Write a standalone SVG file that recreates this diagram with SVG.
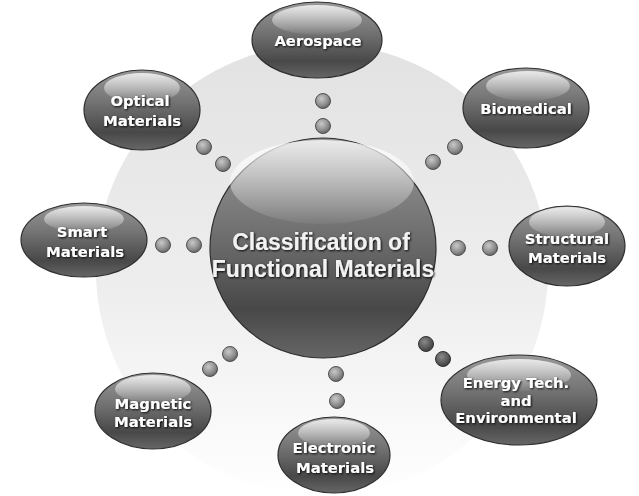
<svg xmlns="http://www.w3.org/2000/svg" width="639" height="496" viewBox="0 0 639 496">
<defs>
  <linearGradient id="bgG" x1="0" y1="0" x2="0" y2="1">
    <stop offset="0" stop-color="#e2e2e2"/>
    <stop offset="0.55" stop-color="#eeeeee"/>
    <stop offset="1" stop-color="#ffffff"/>
  </linearGradient>
  <linearGradient id="bodyG" x1="0" y1="0" x2="0" y2="1">
    <stop offset="0" stop-color="#999999"/>
    <stop offset="0.4" stop-color="#737373"/>
    <stop offset="0.78" stop-color="#484848"/>
    <stop offset="1" stop-color="#666666"/>
  </linearGradient>
  <linearGradient id="hiG" x1="0" y1="0" x2="0" y2="1">
    <stop offset="0" stop-color="#ffffff" stop-opacity="0.8"/>
    <stop offset="0.6" stop-color="#ffffff" stop-opacity="0.35"/>
    <stop offset="1" stop-color="#ffffff" stop-opacity="0.05"/>
  </linearGradient>
  <radialGradient id="dotG" cx="0.4" cy="0.35" r="0.7">
    <stop offset="0" stop-color="#c8c8c8"/>
    <stop offset="0.6" stop-color="#909090"/>
    <stop offset="1" stop-color="#5e5e5e"/>
  </radialGradient>
  <radialGradient id="dotDark" cx="0.4" cy="0.35" r="0.7">
    <stop offset="0" stop-color="#8a8a8a"/>
    <stop offset="0.6" stop-color="#5a5a5a"/>
    <stop offset="1" stop-color="#3a3a3a"/>
  </radialGradient>
  <filter id="sh" x="-10%" y="-30%" width="120%" height="160%">
    <feDropShadow dx="1" dy="1" stdDeviation="0.8" flood-color="#000" flood-opacity="0.95"/>
  </filter>
</defs>
<style>
  .body { fill: url(#bodyG); stroke: #2e2e2e; stroke-width: 1.2; }
  .hi { fill: url(#hiG); }
  .dot { fill: url(#dotG); stroke: #505050; stroke-width: 1; }
  .dotd { fill: url(#dotDark); stroke: #333; stroke-width: 1; }
  .lbl { font-family: "DejaVu Sans", Verdana, sans-serif; font-weight: bold; font-size: 14.8px; fill: #ffffff; text-anchor: middle; filter: url(#sh); }
  .main { font-family: "Liberation Sans", Arial, sans-serif; font-weight: bold; font-size: 23px; fill: #f2f2f2; text-anchor: middle; filter: url(#sh); }
</style>
<rect width="639" height="496" fill="#ffffff"/>
<circle cx="322" cy="270" r="226" fill="url(#bgG)"/>

<g id="connectors">
  <circle class="dot" cx="323" cy="101" r="7.5"/>
  <circle class="dot" cx="323" cy="126" r="7.5"/>
  <circle class="dot" cx="204" cy="147" r="7.5"/>
  <circle class="dot" cx="223" cy="164" r="7.5"/>
  <circle class="dot" cx="455" cy="147" r="7.5"/>
  <circle class="dot" cx="433" cy="162" r="7.5"/>
  <circle class="dot" cx="163" cy="245" r="7.5"/>
  <circle class="dot" cx="194" cy="245" r="7.5"/>
  <circle class="dot" cx="458" cy="248" r="7.5"/>
  <circle class="dot" cx="490" cy="248" r="7.5"/>
  <circle class="dot" cx="230" cy="354" r="7.5"/>
  <circle class="dot" cx="210" cy="369" r="7.5"/>
  <circle class="dot" cx="336" cy="374" r="7.5"/>
  <circle class="dot" cx="337" cy="401" r="7.5"/>
  <circle class="dotd" cx="426" cy="344" r="7.5"/>
  <circle class="dotd" cx="443" cy="359" r="7.5"/>
</g>

<g id="center">
  <ellipse class="body" cx="323" cy="248" rx="113" ry="110"/>
  <ellipse class="hi" cx="322" cy="182" rx="92" ry="42"/>
  <text class="main" x="321" y="250">Classification of</text>
  <text class="main" x="323" y="277">Functional Materials</text>
</g>

<g id="aerospace">
  <ellipse class="body" cx="317" cy="40" rx="65" ry="38"/>
  <ellipse class="hi" cx="317" cy="20" rx="45" ry="15"/>
  <text class="lbl" x="318" y="46">Aerospace</text>
</g>

<g id="optical">
  <ellipse class="body" cx="142" cy="110" rx="58" ry="40"/>
  <ellipse class="hi" cx="142" cy="88" rx="38" ry="15"/>
  <text class="lbl" x="140" y="106">Optical</text>
  <text class="lbl" x="142" y="126">Materials</text>
</g>

<g id="biomedical">
  <ellipse class="body" cx="526" cy="108" rx="63" ry="40"/>
  <ellipse class="hi" cx="528" cy="86" rx="42" ry="15"/>
  <text class="lbl" x="526" y="114">Biomedical</text>
</g>

<g id="smart">
  <ellipse class="body" cx="84" cy="240" rx="63" ry="37"/>
  <ellipse class="hi" cx="84" cy="219" rx="40" ry="13"/>
  <text class="lbl" x="82" y="237">Smart</text>
  <text class="lbl" x="85" y="257">Materials</text>
</g>

<g id="structural">
  <ellipse class="body" cx="567" cy="246" rx="58" ry="40"/>
  <ellipse class="hi" cx="567" cy="222" rx="38" ry="15"/>
  <text class="lbl" x="567" y="244">Structural</text>
  <text class="lbl" x="567" y="263">Materials</text>
</g>

<g id="magnetic">
  <ellipse class="body" cx="153" cy="411" rx="58" ry="38"/>
  <ellipse class="hi" cx="153" cy="389" rx="38" ry="14"/>
  <text class="lbl" x="153" y="409">Magnetic</text>
  <text class="lbl" x="153" y="427">Materials</text>
</g>

<g id="electronic">
  <ellipse class="body" cx="334" cy="455" rx="56" ry="38"/>
  <ellipse class="hi" cx="334" cy="433" rx="36" ry="14"/>
  <text class="lbl" x="334" y="453">Electronic</text>
  <text class="lbl" x="335" y="473">Materials</text>
</g>

<g id="energy">
  <ellipse class="body" cx="519" cy="400" rx="78" ry="45"/>
  <ellipse class="hi" cx="519" cy="375" rx="52" ry="16"/>
  <text class="lbl" x="516" y="388">Energy Tech.</text>
  <text class="lbl" x="516" y="406">and</text>
  <text class="lbl" x="516" y="423">Environmental</text>
</g>
</svg>
